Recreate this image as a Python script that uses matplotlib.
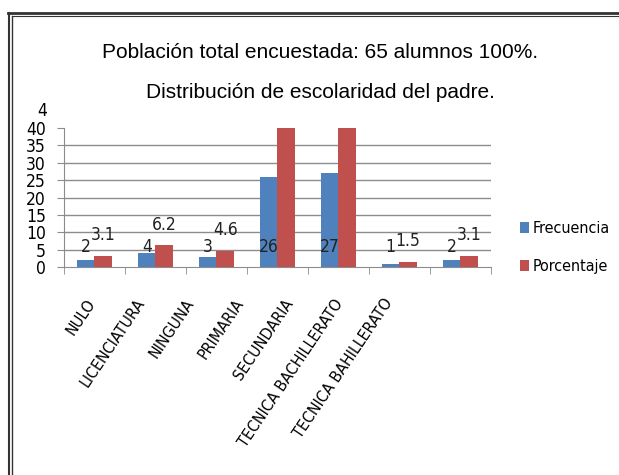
import matplotlib.pyplot as plt
from matplotlib.lines import Line2D
import numpy as np

# datos
categorias = ["NULO", "LICENCIATURA", "NINGUNA", "PRIMARIA", "SECUNDARIA",
              "TECNICA BACHILLERATO", "TECNICA BAHILLERATO"]
frecuencia = [2, 4, 3, 26, 27, 1, 2]
porcentaje = [3.1, 6.2, 4.6, 40, 41.5, 1.5, 3.1]
yticks = [0, 5, 10, 15, 20, 25, 30, 35, 40]

azul = "#4F81BD"
rojo = "#C0504D"
narrow = ["DejaVu Sans"]
st = "condensed"

fig = plt.figure(figsize=(6.19, 4.75), dpi=100)
ax = fig.add_axes([0.1034, 0.4379, 0.6896, 0.2926])

x = np.arange(len(categorias))
w = 0.286
ax.bar(x - w / 2, frecuencia, w, color=azul, label="Frecuencia", zorder=3)
ax.bar(x + w / 2, porcentaje, w, color=rojo, label="Porcentaje", zorder=3)

ax.set_xlim(-0.5, len(categorias) - 0.5)
ax.set_ylim(0, 40)

# etiquetas de datos (las que quedan fuera del eje no se ven)
for i in range(len(categorias)):
    ax.text(x[i] - w / 2, 5.8, str(frecuencia[i]), ha="center", va="center",
            family=narrow, stretch=st, fontsize=12.5, color="#222222", zorder=4)
    if porcentaje[i] < 35:
        ax.text(x[i] + w / 2, porcentaje[i] + 6, str(porcentaje[i]), ha="center",
                va="center", family=narrow, stretch=st, fontsize=12.5,
                color="#222222", zorder=4)

for v in yticks[1:-1]:
    ax.axhline(v, color="#8c8c8c", lw=1, zorder=1)

ax.set_yticks(yticks)
ax.set_yticklabels([str(v) for v in yticks], family=narrow, stretch=st, fontsize=12.5)
# las etiquetas de categoria quedan algo mas juntas que las barras
ax.set_xticks(x * 0.811 - 0.14)
ax.set_xticklabels(categorias, rotation=56, ha="right", rotation_mode="anchor",
                   family=narrow, stretch=st, fontsize=11.5)
ax.tick_params(axis="x", length=0, pad=21)
ax.set_xticks(np.arange(-0.5, len(categorias) + 0.5, 1), minor=True)
ax.tick_params(axis="x", which="minor", length=5, color="#8c8c8c")
ax.tick_params(axis="y", length=5, color="#8c8c8c", pad=8)

for s in ["top", "right"]:
    ax.spines[s].set_visible(False)
ax.spines["left"].set_color("#8c8c8c")
ax.spines["bottom"].set_color("#8c8c8c")

# "45" recortado arriba del eje
ax.text(-0.78, 45, "4", ha="right", va="center", family=narrow, stretch=st,
        fontsize=12.5, clip_on=False)

leg = ax.legend(loc="center left", bbox_to_anchor=(1.034, 0.14), frameon=False,
                prop={"family": narrow, "stretch": st, "size": 11.5},
                handlelength=0.55, handleheight=0.75, handletextpad=0.25,
                labelspacing=1.45)

fig.text(0.517, 0.89, "Población total encuestada: 65 alumnos 100%.",
         ha="center", va="center", fontsize=15, family="Liberation Sans")
fig.text(0.517, 0.806, "Distribución de escolaridad del padre.",
         ha="center", va="center", fontsize=15, family="Liberation Sans")

# marco
fig.add_artist(Line2D([0.013, 1.0], [0.972, 0.972], color="#333333", lw=2))
fig.add_artist(Line2D([0.014, 0.014], [0.0, 0.972], color="#333333", lw=1.5))
fig.add_artist(Line2D([0.019, 0.019], [0.0, 0.966], color="#333333", lw=1))
fig.add_artist(Line2D([0.019, 1.0], [0.966, 0.966], color="#333333", lw=0.8))

plt.savefig("out.png", dpi=100)
